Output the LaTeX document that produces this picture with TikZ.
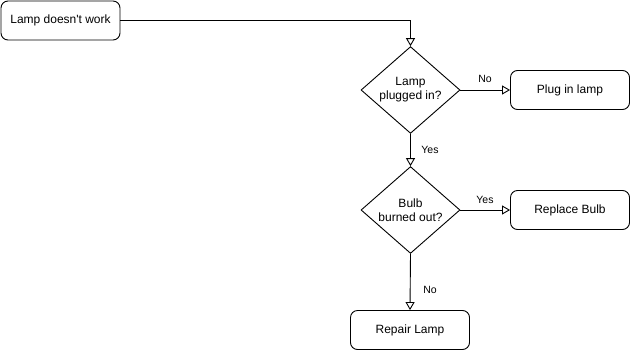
\documentclass[tikz,border=0pt]{standalone}
\usepackage{fontspec}
\setmainfont{Liberation Sans}[Ligatures=TeXOff]
\usetikzlibrary{arrows.meta,shapes.geometric}
\begin{document}
\begin{tikzpicture}[x=1pt,y=-1pt,
  font=\fontsize{12}{14}\selectfont,
  line width=0.9pt,
  box/.style={draw, rounded corners=7pt, minimum width=119pt, minimum height=39pt, inner sep=0pt, align=center},
  choice/.style={draw, diamond, minimum width=99pt, minimum height=80pt, inner sep=0pt, align=center},
  flow/.style={-{Triangle[open, length=8pt, width=9pt]}},
  lbl/.style={font=\fontsize{10.5}{12}\selectfont, inner sep=0pt}]
  \useasboundingbox (0,0) rectangle (631,351);
  % process steps and decisions
  \node[box] (start) at (60.5,20.5) {Lamp doesn't work};
  \node[choice] (plugged) at (410.5,90) {Lamp\\plugged in?};
  \node[box] (plug) at (570,90) {Plug in lamp};
  \node[choice] (bulb) at (410.5,210) {Bulb\\burned out?};
  \node[box] (replace) at (570,210) {Replace Bulb};
  \node[box] (repair) at (410,330) {Repair Lamp};
  % connectors
  \draw[flow] (start.east) -| (plugged.north);
  \draw[flow] (plugged.east) -- (plug.west);
  \draw[flow] (plugged.south) -- (bulb.north);
  \draw[flow] (bulb.east) -- (replace.west);
  \draw[flow] (bulb.south) -- (repair.north);
  % branch labels
  \node[lbl] (l1) at (485,79) {No};
  \node[lbl] (l2) at (430,150) {Yes};
  \node[lbl] (l3) at (485,200) {Yes};
  \node[lbl] (l4) at (430,290) {No};
\end{tikzpicture}
\end{document}
